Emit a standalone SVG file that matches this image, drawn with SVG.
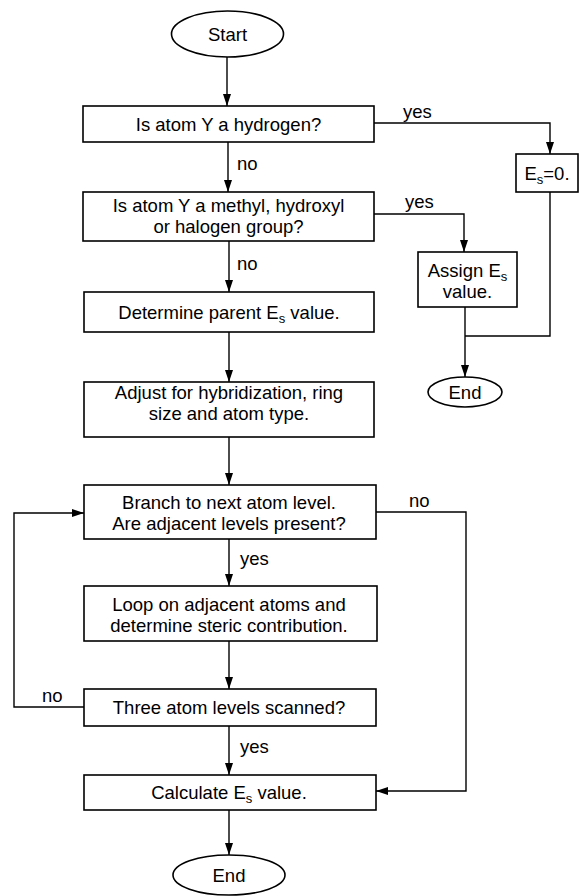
<svg xmlns="http://www.w3.org/2000/svg" width="580" height="896" viewBox="0 0 580 896">
<style>
.box{fill:#fff;stroke:#000;stroke-width:1.6}
.t{font-family:"Liberation Sans",Arial,sans-serif;font-size:18.5px;fill:#000;text-anchor:middle}
.l{font-family:"Liberation Sans",Arial,sans-serif;font-size:18.5px;fill:#000}
.c{fill:none;stroke:#000;stroke-width:1.4}
.sub{font-size:13px}
</style>
<defs>
<marker id="ah" markerUnits="userSpaceOnUse" markerWidth="12" markerHeight="12" viewBox="0 0 12 12" refX="12" refY="6" orient="auto">
<path d="M0,2 L12,6 L0,10 Z" fill="#000"/>
</marker>
</defs>
<rect width="580" height="896" fill="#fff"/>
<g id="connectors">
<path class="c" d="M227,57 V106" marker-end="url(#ah)"/>
<path class="c" d="M228,142 V192" marker-end="url(#ah)"/>
<path class="c" d="M229,241 V292" marker-end="url(#ah)"/>
<path class="c" d="M229,332 V382" marker-end="url(#ah)"/>
<path class="c" d="M229,437 V485" marker-end="url(#ah)"/>
<path class="c" d="M229,539 V586" marker-end="url(#ah)"/>
<path class="c" d="M229,641 V689" marker-end="url(#ah)"/>
<path class="c" d="M229,726 V775" marker-end="url(#ah)"/>
<path class="c" d="M229,810 V855" marker-end="url(#ah)"/>
<path class="c" d="M374,123 H550 V154" marker-end="url(#ah)"/>
<path class="c" d="M374,214 H464 V252" marker-end="url(#ah)"/>
<path class="c" d="M550,192 V336 H465"/>
<path class="c" d="M465,307 V377" marker-end="url(#ah)"/>
<path class="c" d="M376,512 H466 V791 H376" marker-end="url(#ah)"/>
<path class="c" d="M84,707 H14 V513 H84" marker-end="url(#ah)"/>
<text class="l" x="403" y="118">yes</text>
<text class="l" x="405" y="208">yes</text>
<text class="l" x="237" y="170">no</text>
<text class="l" x="237" y="270">no</text>
<text class="l" x="409" y="507">no</text>
<text class="l" x="240" y="565">yes</text>
<text class="l" x="42" y="702">no</text>
<text class="l" x="240" y="753">yes</text>
</g>
<g id="start">
<ellipse class="box" cx="227.5" cy="34" rx="56" ry="23"/>
<text class="t" x="227.5" y="40.5">Start</text>
</g>
<g id="q-hydrogen">
<rect class="box" x="83" y="106" width="291" height="36"/>
<text class="t" x="228.5" y="130.5">Is atom Y a hydrogen?</text>
</g>
<g id="q-methyl">
<rect class="box" x="83" y="192" width="291" height="49"/>
<text class="t" x="228.5" y="212">Is atom Y a methyl, hydroxyl</text>
<text class="t" x="228.5" y="233">or halogen group?</text>
</g>
<g id="es-zero">
<rect class="box" x="516" y="154" width="62" height="38"/>
<text class="t" x="547" y="179.5">E<tspan class="sub" dy="4">s</tspan><tspan dy="-4">=0.</tspan></text>
</g>
<g id="assign">
<rect class="box" x="418" y="252" width="99" height="55"/>
<text class="t" x="467.5" y="276.5">Assign E<tspan class="sub" dy="4">s</tspan></text>
<text class="t" x="467.5" y="297.5">value.</text>
</g>
<g id="end-top">
<ellipse class="box" cx="465" cy="392" rx="37" ry="15"/>
<text class="t" x="465" y="398.5">End</text>
</g>
<g id="determine-parent">
<rect class="box" x="84" y="292" width="290" height="40"/>
<text class="t" x="229" y="318.5">Determine parent E<tspan class="sub" dy="4">s</tspan><tspan dy="-4"> value.</tspan></text>
</g>
<g id="adjust">
<rect class="box" x="84" y="382" width="290" height="55"/>
<text class="t" x="229" y="399">Adjust for hybridization, ring</text>
<text class="t" x="229" y="420">size and atom type.</text>
</g>
<g id="branch">
<rect class="box" x="84" y="485" width="292" height="54"/>
<text class="t" x="229" y="508.5">Branch to next atom level.</text>
<text class="t" x="229" y="529.5">Are adjacent levels present?</text>
</g>
<g id="loop">
<rect class="box" x="84" y="586" width="293" height="55"/>
<text class="t" x="229" y="610.5">Loop on adjacent atoms and</text>
<text class="t" x="229" y="631.5">determine steric contribution.</text>
</g>
<g id="three-levels">
<rect class="box" x="84" y="689" width="292" height="37"/>
<text class="t" x="229" y="714">Three atom levels scanned?</text>
</g>
<g id="calculate">
<rect class="box" x="84" y="775" width="292" height="35"/>
<text class="t" x="229" y="798.5">Calculate E<tspan class="sub" dy="4">s</tspan><tspan dy="-4"> value.</tspan></text>
</g>
<g id="end-bottom">
<ellipse class="box" cx="229" cy="875" rx="56" ry="20"/>
<text class="t" x="229" y="881.5">End</text>
</g>
</svg>
